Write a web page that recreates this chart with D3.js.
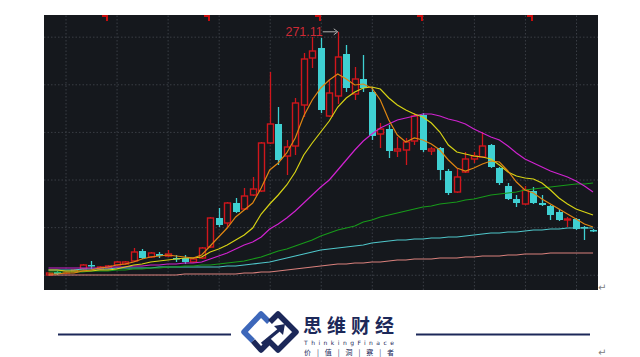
<!DOCTYPE html>
<html><head><meta charset="utf-8">
<script src="https://cdn.jsdelivr.net/npm/d3@7/dist/d3.min.js"></script>
<style>body{margin:0;background:#fff;}svg{display:block}</style>
</head><body>
<svg id="c" width="640" height="357"></svg>
<script>
const open = [15.75,18.9,17.85,18.9,22.05,26.25,22.05,23.1,26.25,27.3,30.45,40.95,34.65,37.8,35.7,33.6,33.6,29.4,33.6,45.15,75.6,70.35,91.35,85.05,99.75,103.95,154.35,174.3,140.7,151.2,194.25,243.6,254.1,182.7,203.7,247.8,205.8,221.55,207.9,163.8,169.05,145.95,147.0,156.45,183.75,145.95,149.1,124.95,102.9,123.9,137.55,139.65,152.25,128.1,109.2,95.55,90.3,103.95,91.35,88.2,81.9,73.5,74.55,66.15,63.0];
const close = [17.85,16.8,18.9,21.0,26.25,25.2,24.15,25.2,29.4,29.4,39.9,33.6,38.85,35.7,37.8,32.55,29.4,32.55,44.1,75.6,68.25,91.35,81.9,98.7,106.05,154.35,174.3,136.5,150.15,196.35,242.55,250.95,189.0,206.85,244.65,212.1,221.55,212.1,161.7,169.05,145.95,148.05,155.4,182.7,147.0,148.05,126.0,101.85,118.65,137.55,140.7,151.2,129.15,112.35,95.55,91.35,105.0,91.35,89.25,78.75,73.5,74.55,64.05,65.1,61.95];
const high = [18.9,19.95,19.95,22.05,27.3,30.45,25.2,26.25,30.45,30.45,44.1,43.05,39.9,39.9,42.0,36.75,36.75,33.6,45.15,76.65,86.1,92.4,96.6,107.1,118.65,155.4,228.9,192.15,157.5,201.6,248.85,265.65,264.6,220.5,271.11,257.25,234.15,246.75,213.15,175.35,173.25,160.65,159.6,185.85,185.85,150.15,150.15,127.05,128.1,144.9,144.9,165.9,153.3,129.15,112.35,99.75,109.2,108.15,99.75,89.25,85.05,76.65,75.6,67.2,64.05];
const low = [14.7,15.75,16.8,17.85,21.0,22.05,21.0,22.05,25.2,26.25,29.4,32.55,33.6,33.6,34.65,29.4,27.3,28.35,32.55,44.1,66.15,66.15,80.85,84.0,98.7,102.9,153.3,131.25,120.75,141.75,181.65,233.1,185.85,181.65,195.3,207.9,199.5,207.9,157.5,149.1,138.6,139.65,131.25,152.25,144.9,141.75,115.5,99.75,101.85,122.85,133.35,138.6,128.1,110.25,94.5,87.15,89.25,90.3,88.2,73.5,72.45,66.15,63.0,52.5,60.9];

const ma5 = [16.8,16.8,17.85,17.85,19.95,21,23.1,24.15,26.25,27.3,29.4,32.55,34.65,35.7,36.75,35.7,34.65,33.6,36.75,46.2,55.65,65.1,76.65,84,91.35,107.1,126,133.35,143.85,159.6,182.7,199.5,212.1,220.5,226.8,221.55,215.25,216.3,212.1,199.5,178.5,162.75,155.4,159.6,157.5,153.3,147,136.5,128.1,124.95,128.1,132.3,135.45,134.4,124.95,113.4,105,101.85,95.55,90.3,85.05,79.8,74.55,69.3,66.15];
const ma10 = [21,21,19.95,19.95,19.95,19.95,21,21,22.05,24.15,26.25,27.3,29.4,30.45,31.5,32.55,33.6,33.6,34.65,39.9,43.05,47.25,52.5,57.75,65.1,79.8,90.3,99.75,110.25,123.9,141.75,154.35,165.9,177.45,192.15,201.6,207.9,212.1,213.15,211.05,201.6,194.25,189,184.8,181.65,175.35,165.9,152.25,144.9,142.8,140.7,139.65,137.55,131.25,123.9,119.7,117.6,116.55,112.35,105,96.6,90.3,85.05,81.9,78.75];
const ma20 = [23.1,23.1,23.1,23.1,23.1,23.1,23.1,24.15,24.15,24.15,25.2,25.2,26.25,26.25,27.3,27.3,28.35,28.35,29.4,32.55,35.7,38.85,43.05,47.25,50.4,55.65,64.05,69.3,75.6,82.95,91.35,99.75,108.15,115.5,126,136.5,147,156.45,163.8,170.1,174.3,178.5,180.6,182.7,184.8,184.8,182.7,179.55,177.45,174.3,169.05,164.85,160.65,157.5,151.2,143.85,137.55,133.35,129.15,124.95,121.8,118.65,114.45,109.2,102.9];
const ma60 = [18.9,18.9,18.9,18.9,18.9,19.95,19.95,19.95,21,21,22.05,22.05,23.1,23.1,24.15,24.15,25.2,25.2,26.25,26.25,27.3,28.35,29.4,30.45,32.55,34.65,37.8,40.95,43.05,46.2,49.35,52.5,56.7,59.85,63,65.1,67.2,71.4,73.5,76.65,78.75,80.85,82.95,85.05,87.15,88.2,90.3,91.35,92.4,94.5,95.55,97.65,99.75,100.8,101.85,102.9,105,106.05,107.1,108.15,109.2,110.25,111.3,111.3,112.35];
const ma120 = [21,21,21,21,22.05,22.05,22.05,22.05,23.1,23.1,23.1,23.1,23.1,24.15,24.15,24.15,24.15,24.15,24.15,24.15,24.15,25.2,25.2,26.25,27.3,28.35,29.4,31.5,33.6,35.7,37.8,39.9,42,43.05,44.1,45.15,46.2,47.25,49.35,50.4,51.45,52.5,52.5,53.55,53.55,54.6,54.6,55.65,55.65,56.7,57.75,58.8,59.85,59.85,60.9,60.9,61.95,63,63,64.05,64.05,65.1,65.1,65.1,65.1];
const ma250 = [15.75,15.75,15.75,15.75,15.75,15.75,15.75,15.75,15.75,15.75,15.75,15.75,15.75,15.75,15.75,15.75,16.8,16.8,16.8,16.8,16.8,16.8,16.8,17.85,17.85,18.9,18.9,19.95,21,22.05,23.1,24.15,25.2,26.25,27.3,27.3,28.35,28.35,29.4,29.4,30.45,31.5,31.5,32.55,32.55,32.55,33.6,33.6,33.6,34.65,34.65,35.7,35.7,35.7,36.75,36.75,37.8,37.8,37.8,38.85,38.85,38.85,38.85,38.85,38.85];

const gridPrices = [16, 66, 116, 166, 216, 266];
const gridIdx = [2, 8, 14, 20, 26, 32, 38, 44, 50, 56, 62];
const markerIdx = [7, 19, 32, 44, 57];

const maSeries = [
  {name:"MA250", values: ma250, color:"#d9807c"},
  {name:"MA120", values: ma120, color:"#4fc6ca"},
  {name:"MA60",  values: ma60,  color:"#179a1a"},
  {name:"MA20",  values: ma20,  color:"#cf22cf"},
  {name:"MA10",  values: ma10,  color:"#d6d214"},
  {name:"MA5",   values: ma5,   color:"#df8612"}
];

const plot = {x:44, y:15, w:554, h:275};
const svg = d3.select("#c");
svg.append("rect").attr("width",640).attr("height",357).attr("fill","#ffffff");
svg.append("rect").attr("x",plot.x).attr("y",plot.y).attr("width",plot.w).attr("height",plot.h).attr("fill","#15181d");

svg.append("clipPath").attr("id","clip").append("rect")
  .attr("x",plot.x).attr("y",plot.y).attr("width",plot.w).attr("height",plot.h);

const x = d3.scaleLinear().domain([0, open.length-1]).range([48.5, 593]);
const y = d3.scaleLinear().domain([0, 288.75]).range([plot.y+plot.h, plot.y]);

const g = svg.append("g").attr("clip-path","url(#clip)");

// grid
const gy = g.append("g").attr("transform",`translate(${plot.x},0)`)
  .call(d3.axisLeft(y).tickValues(gridPrices).tickSize(-plot.w).tickFormat(""));
const gx = g.append("g").attr("transform",`translate(0,${plot.y+plot.h})`)
  .call(d3.axisBottom(x).tickValues(gridIdx).tickSize(-plot.h).tickFormat(""));
[gy,gx].forEach(a=>{
  a.select(".domain").remove();
  a.selectAll(".tick line").attr("stroke","#3a3e45").attr("stroke-width",1).attr("stroke-dasharray","1.5,2");
});

// top markers
g.append("g").selectAll("path").data(markerIdx).join("path")
  .attr("d", i => { const cx = Math.round(x(i)); return `M${cx-6},15 H${cx} V21 H${cx-2} V17 H${cx-6} Z`; })
  .attr("fill","#c80c0c");

// candles
const idx = d3.range(open.length);
const cg = g.append("g");
const upColor = "#d0161c", downColor = "#3fd0d2";
idx.forEach(i => {
  const cx = Math.round(x(i)) + 0.5;
  const up = close[i] >= open[i];
  const top = y(Math.max(open[i], close[i]));
  const bot = y(Math.min(open[i], close[i]));
  if (up) {
    cg.append("line").attr("x1",cx).attr("x2",cx).attr("y1",y(high[i])).attr("y2",top).attr("stroke",upColor).attr("stroke-width",1.3);
    cg.append("line").attr("x1",cx).attr("x2",cx).attr("y1",bot).attr("y2",y(low[i])).attr("stroke",upColor).attr("stroke-width",1.3);
    cg.append("rect").attr("x",cx-3).attr("y",top).attr("width",6).attr("height",Math.max(1,bot-top))
      .attr("fill","#15181d").attr("stroke",upColor).attr("stroke-width",1.4);
  } else {
    cg.append("line").attr("x1",cx).attr("x2",cx).attr("y1",y(high[i])).attr("y2",y(low[i])).attr("stroke",downColor).attr("stroke-width",1.3);
    cg.append("rect").attr("x",cx-3.5).attr("y",top).attr("width",7).attr("height",Math.max(1.5,bot-top))
      .attr("fill",downColor);
  }
});

// moving averages
const line = d3.line().x((d,i)=>x(i)).y(d=>y(d));
g.append("g").selectAll("path").data(maSeries).join("path")
  .attr("d", s => line(s.values))
  .attr("fill","none").attr("stroke", s=>s.color).attr("stroke-width",1.2);

// max label
const maxI = d3.maxIndex(high);
const mx = x(maxI), my = y(high[maxI]);
svg.append("line").attr("x1",mx-15).attr("x2",mx-1).attr("y1",my).attr("y2",my).attr("stroke","#b0b0b0").attr("stroke-width",1);
svg.append("path").attr("d",`M${mx},${my} l-4,-3 M${mx},${my} l-4,3`).attr("stroke","#b0b0b0").attr("stroke-width",1).attr("fill","none");
svg.append("text").attr("x",mx-15).attr("y",my+4.5).attr("text-anchor","end")
  .attr("font-family","Liberation Sans, Arial, sans-serif").attr("font-size",12.5).attr("fill","#cf2a36")
  .text(d3.format(".2f")(high[maxI]));

// footer logo
const navy = "#1c2859";
svg.append("line").attr("x1",58).attr("x2",231).attr("y1",334.5).attr("y2",334.5).attr("stroke",navy).attr("stroke-width",2.2);
svg.append("line").attr("x1",416).attr("x2",590).attr("y1",334.5).attr("y2",334.5).attr("stroke",navy).attr("stroke-width",2.2);

const logo = svg.append("g");
logo.append("path").attr("d","M269,322 L261,314 L244,332 L253,341").attr("fill","none").attr("stroke","#3d67ba").attr("stroke-width",5.5).attr("stroke-linejoin","round");
logo.append("path").attr("d","M253,341 L261,350 L269.5,341.5 L278,350 L296,332 L278,314 L270,322").attr("fill","none").attr("stroke",navy).attr("stroke-width",5.5).attr("stroke-linejoin","round");
logo.append("line").attr("x1",262).attr("y1",344).attr("x2",279).attr("y2",330).attr("stroke",navy).attr("stroke-width",3.5);
logo.append("path").attr("d","M285,324 L274,326 L283,335 Z").attr("fill",navy);

svg.append("text").attr("x",303).attr("y",333).attr("font-family","Noto Sans CJK SC").attr("font-weight","bold")
  .attr("font-size",19).attr("letter-spacing",5).attr("fill",navy).text("思维财经");
svg.append("text").attr("x",304).attr("y",345).attr("font-family","DejaVu Sans, sans-serif")
  .attr("font-size",6).attr("fill",navy).attr("textLength",90).attr("lengthAdjust","spacing").text("ThinkingFinace");
svg.append("text").attr("x",304).attr("y",355).attr("font-family","Noto Sans CJK SC")
  .attr("font-size",7).attr("fill",navy).attr("textLength",90).attr("lengthAdjust","spacing").text("价 | 值 | 洞 | 察 | 者");

svg.append("text").attr("x",598).attr("y",291).attr("font-family","DejaVu Sans").attr("font-size",10).attr("fill","#808080").text("↵");
svg.append("text").attr("x",598).attr("y",356).attr("font-family","DejaVu Sans").attr("font-size",10).attr("fill","#808080").text("↵");
</script>
</body></html>
